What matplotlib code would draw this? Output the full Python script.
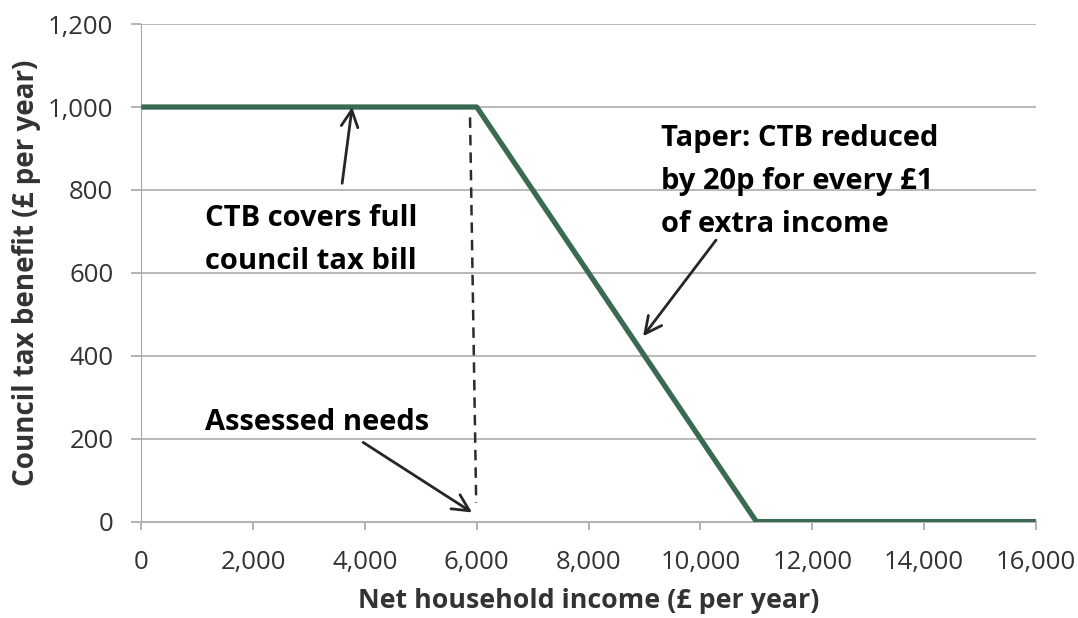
import matplotlib.pyplot as plt
from matplotlib.ticker import FuncFormatter

# income (x) and council tax benefit (y)
income = [0, 6000, 11000, 16000]
benefit = [1000, 1000, 0, 0]

# dashed "assessed needs" marker
needs_x = [5880, 5990]
needs_y = [975, 45]

xticks = list(range(0, 16001, 2000))
yticks = list(range(0, 1201, 200))

plt.rcParams['font.family'] = ['Open Sans', 'DejaVu Sans']

fig = plt.figure(figsize=(10.78, 6.18), dpi=100)
ax = fig.add_axes([0.131, 0.156, 0.830, 0.805])

ax.plot(income, benefit, color='#3b6a52', linewidth=3.8, solid_capstyle='butt', zorder=3)
ax.plot(needs_x, needs_y, color='#2b2b2b', linewidth=1.8, linestyle=(0, (4.2, 2.8)), zorder=2)

ax.set_xlim(0, 16000)
ax.set_ylim(0, 1200)
ax.set_xticks(xticks)
ax.set_yticks(yticks)
fmt = FuncFormatter(lambda v, p: f'{int(v):,}')
ax.xaxis.set_major_formatter(fmt)
ax.yaxis.set_major_formatter(fmt)

ax.grid(axis='y', color='#b3b3b3', linewidth=1.3, zorder=0)
ax.set_axisbelow(True)
for s in ['top', 'right']:
    ax.spines[s].set_visible(False)
ax.spines['left'].set_color('#a6a6a6')
ax.spines['bottom'].set_color('#b3b3b3')
ax.spines['bottom'].set_linewidth(1.5)
ax.tick_params(axis='both', colors='#a6a6a6', labelcolor='#333333', labelsize=18.5, width=1.2)
ax.tick_params(axis='x', length=5.5, pad=15)
ax.tick_params(axis='y', length=7, pad=13)

ax.set_xlabel('Net household income (£ per year)', fontsize=19.3, fontweight='bold', color='#333333', labelpad=9)
ax.set_ylabel('Council tax benefit (£ per year)', fontsize=20, fontweight='bold', color='#333333', labelpad=5)

arrow = dict(arrowstyle='->', color='#262626', lw=2, mutation_scale=30, shrinkA=0, shrinkB=0)
txt = dict(fontsize=21, fontweight='bold', color='black', linespacing=1.65)

ax.annotate('', xy=(3772, 1000), xytext=(3593, 816), arrowprops=arrow)
ax.annotate('', xy=(5917, 22), xytext=(3969, 191), arrowprops=arrow)
ax.annotate('', xy=(8974, 447), xytext=(10279, 679), arrowprops=arrow)

ax.text(1144, 609, 'CTB covers full\ncouncil tax bill', va='baseline', ha='left', **txt)
ax.text(1144, 222, 'Assessed needs', va='baseline', ha='left', **txt)
ax.text(9290, 698, 'Taper: CTB reduced\nby 20p for every £1\nof extra income', va='baseline', ha='left', **txt)

fig.savefig('out.png', dpi=100)
